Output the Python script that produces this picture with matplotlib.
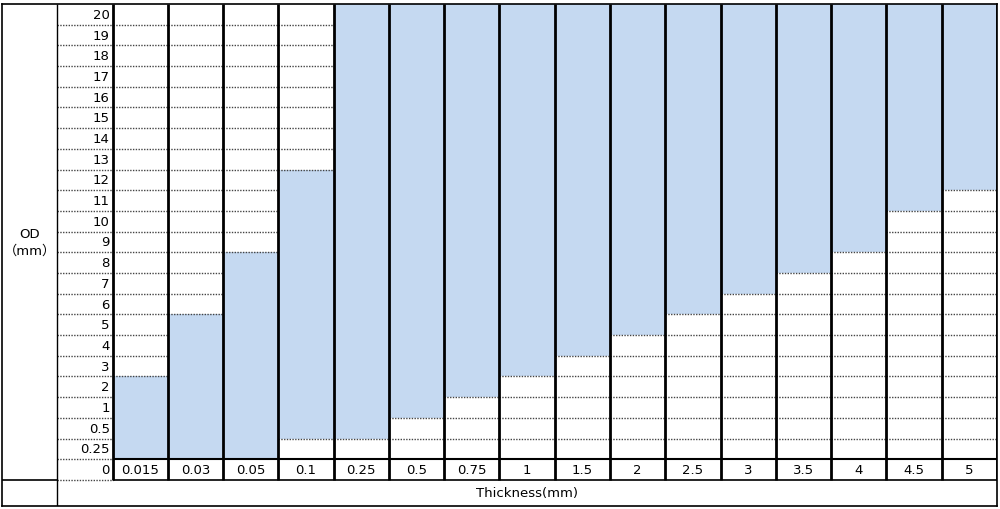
import matplotlib
matplotlib.use("Agg")
import matplotlib.pyplot as plt

plt.rcParams['font.family'] = ['DejaVu Sans', 'Noto Sans CJK JP']

# OD rows, bottom to top
od_rows = ['0', '0.25', '0.5', '1', '2', '3', '4', '5', '6', '7', '8', '9', '10',
           '11', '12', '13', '14', '15', '16', '17', '18', '19', '20']

# thickness columns and the OD range covered for each
thickness = ['0.015', '0.03', '0.05', '0.1', '0.25', '0.5', '0.75', '1', '1.5',
             '2', '2.5', '3', '3.5', '4', '4.5', '5']
od_min = ['0.25', '0.25', '0.25', '0.5', '0.5', '1', '2', '3', '4',
          '5', '6', '7', '8', '9', '11', '12']
od_max = ['2', '5', '8', '12', '20', '20', '20', '20', '20',
          '20', '20', '20', '20', '20', '20', '20']

blue = '#C5D9F1'
n_rows = len(od_rows)
n_cols = len(thickness)
bottom_h = 1.26

fig = plt.figure(figsize=(10, 5.1), dpi=100)
ax = fig.add_axes([0.002, 3 / 510, 0.995, 502 / 510])
ax.set_xlim(-2, n_cols)
ax.set_ylim(-bottom_h, n_rows)
ax.set_xticks([])
ax.set_yticks([])
for s in ax.spines.values():
    s.set_linewidth(1.2)

# blue ranges
lo_idx = [od_rows.index(v) for v in od_min]
hi_idx = [od_rows.index(v) for v in od_max]
ax.bar([i + 0.5 for i in range(n_cols)], [h - l + 1 for l, h in zip(lo_idx, hi_idx)],
       bottom=lo_idx, width=1, color=blue, zorder=1)

# dotted row separators (label column and white cells)
dot = dict(colors='#444444', linestyles=(0, (1, 1)), linewidth=1.0, zorder=2)
for b in range(1, n_rows):
    ax.hlines(b, -1, 0, **dot)
    if b == 1:
        continue
    for i in range(n_cols):
        if not (lo_idx[i] < b < hi_idx[i] + 1):
            ax.hlines(b, i, i + 1, **dot)
ax.hlines(0, -1, 0, **dot)

# solid lines
ax.hlines(1, 0, n_cols, colors='black', linewidth=1.5, zorder=3)
ax.hlines(0, 0, n_cols, colors='black', linewidth=1.2, zorder=3)
ax.hlines(0, -2, -1, colors='black', linewidth=1.2, zorder=3)
ax.vlines(-1, -bottom_h, n_rows, colors='black', linewidth=1.0, zorder=3)
for i in range(n_cols + 1):
    ax.vlines(i, 0, n_rows, colors='black', linewidth=2.0, zorder=3)

# labels
for k, lab in enumerate(od_rows):
    ax.text(-0.05, k + 0.5, lab, ha='right', va='center', fontsize=9.5)
for i, lab in enumerate(thickness):
    ax.text(i + 0.5, 0.5, lab, ha='center', va='center', fontsize=9.5)

ax.text(-1.5, n_rows / 2, 'OD\n（mm）', ha='center', va='center', fontsize=9.5,
        linespacing=1.3)
ax.text((n_cols - 1) / 2, -bottom_h / 2, 'Thickness(mm)', ha='center', va='center',
        fontsize=9.5)

fig.savefig('out.png', dpi=100)
